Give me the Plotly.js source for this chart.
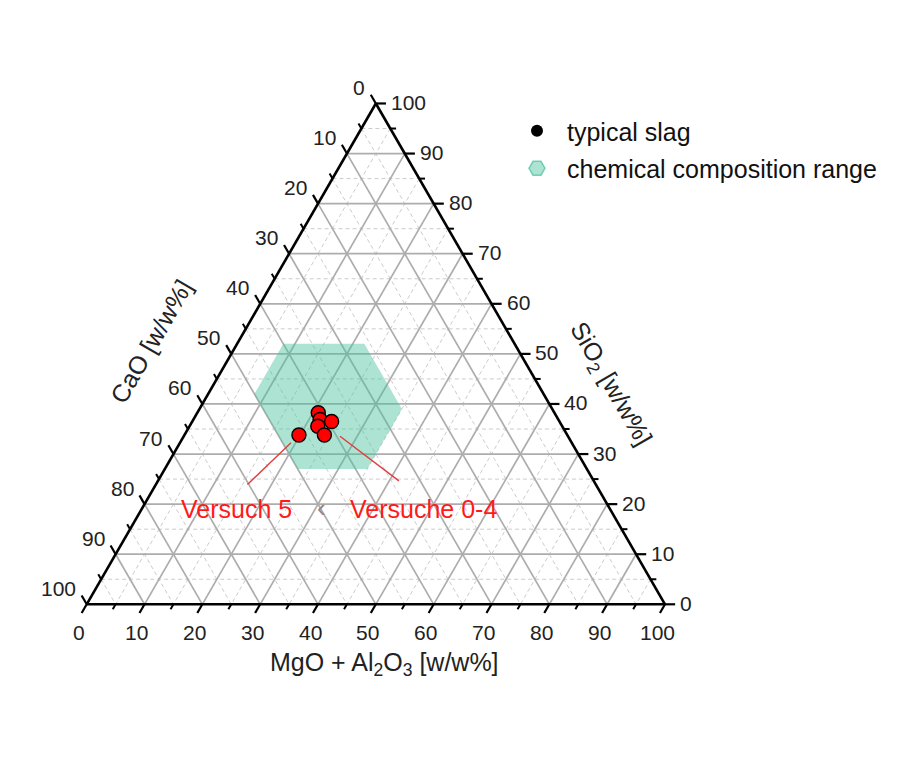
<!DOCTYPE html>
<html>
<head>
<meta charset="utf-8">
<script src="https://cdn.plot.ly/plotly-3.0.1.min.js"></script>
<style>
  html, body { margin: 0; padding: 0; background: #ffffff; }
  #chart { width: 906px; height: 769px; }
</style>
</head>
<body>
<div id="chart"></div>
<script>
// Slag compositions in w/w% (SiO2, CaO, MgO + Al2O3)
const trialsSiO2 = [38.2, 36.9, 35.6, 36.5, 33.8];   // Versuche 0-4
const trialsCaO  = [40.8, 41.2, 42.3, 39.4, 42.0];
const trialsMgO  = [20.9, 21.9, 22.2, 24.1, 24.2];

const trial5SiO2 = [33.8];                           // Versuch 5
const trial5CaO  = [46.4];
const trial5MgO  = [19.8];

// Chemical composition range of typical slag (hexagon corners)
const rangeSiO2 = [52, 52, 39, 27, 27, 42];
const rangeCaO  = [40, 26, 26, 38, 50, 50];
const rangeMgO  = [ 8, 22, 35, 35, 23,  8];

// Axis ticks
const majorTicks = [0, 10, 20, 30, 40, 50, 60, 70, 80, 90, 100];
const minorTicks = [5, 15, 25, 35, 45, 55, 65, 75, 85, 95];
const tickLabels = ['0', '10', '20', '30', '40', '50', '60', '70', '80', '90', '100'];

const FONT = 'Liberation Sans, Arial, Helvetica, sans-serif';
const H = Math.sqrt(3) / 2;

// Ternary (SiO2 top, CaO bottom-left, MgO+Al2O3 bottom-right) -> plane
function tx(si, ca, mg) { const s = si + ca + mg; return 100 * (mg + si / 2) / s; }
function ty(si, ca, mg) { const s = si + ca + mg; return 100 * si * H / s; }

function segs(list) {
  const x = [], y = [];
  list.forEach(([p, q]) => {
    x.push(tx(...p), tx(...q), null);
    y.push(ty(...p), ty(...q), null);
  });
  return { x, y };
}

// Grid lines for the three families of constant composition
function gridSegs(vals) {
  const out = [];
  vals.forEach(v => {
    if (v <= 0 || v >= 100) return;
    out.push([[v, 100 - v, 0], [v, 0, 100 - v]]);        // SiO2 = v
    out.push([[100 - v, v, 0], [0, v, 100 - v]]);        // CaO = v
    out.push([[100 - v, 0, v], [0, 100 - v, v]]);        // MgO+Al2O3 = v
  });
  return segs(out);
}

// Outward tick marks on the three edges
function tickSegs(vals, t) {
  const out = [];
  vals.forEach(v => {
    out.push([[100 - v, v, 0], [100 - v + t, v, -t]]);   // CaO on left edge
    out.push([[v, 0, 100 - v], [v, -t, 100 - v + t]]);   // SiO2 on right edge
    out.push([[0, 100 - v, v], [-t, 100 - v + t, v]]);   // MgO+Al2O3 on bottom edge
  });
  return segs(out);
}

const minorGrid = gridSegs(minorTicks);
const majorGrid = gridSegs(majorTicks);
const edges = segs([[[100, 0, 0], [0, 100, 0]], [[0, 100, 0], [0, 0, 100]], [[0, 0, 100], [100, 0, 0]]]);
const majorTickMarks = tickSegs(majorTicks, 1.75);
const minorTickMarks = tickSegs(minorTicks, 1.0);

const traces = [
  { type: 'scatter', mode: 'lines', x: minorGrid.x, y: minorGrid.y, hoverinfo: 'skip', showlegend: false,
    line: { color: '#cccccc', width: 1, dash: '4px,3px' } },
  { type: 'scatter', mode: 'lines', x: majorGrid.x, y: majorGrid.y, hoverinfo: 'skip', showlegend: false,
    line: { color: '#adadad', width: 1.7 } },
  { type: 'scatter', mode: 'lines', fill: 'toself', showlegend: false, hoverinfo: 'skip',
    x: rangeSiO2.map((s, i) => tx(s, rangeCaO[i], rangeMgO[i])),
    y: rangeSiO2.map((s, i) => ty(s, rangeCaO[i], rangeMgO[i])),
    fillcolor: 'rgba(70,192,155,0.45)', line: { width: 0, color: 'rgba(0,0,0,0)' } },
  { type: 'scatter', mode: 'lines', x: edges.x, y: edges.y, hoverinfo: 'skip', showlegend: false, cliponaxis: false,
    line: { color: '#000000', width: 2.6 } },
  { type: 'scatter', mode: 'lines', x: majorTickMarks.x, y: majorTickMarks.y, hoverinfo: 'skip', showlegend: false, cliponaxis: false,
    line: { color: '#000000', width: 2.2 } },
  { type: 'scatter', mode: 'lines', x: minorTickMarks.x, y: minorTickMarks.y, hoverinfo: 'skip', showlegend: false, cliponaxis: false,
    line: { color: '#000000', width: 2 } },
  { type: 'scatter', mode: 'markers', name: 'Versuch 5', showlegend: false,
    x: trial5SiO2.map((s, i) => tx(s, trial5CaO[i], trial5MgO[i])),
    y: trial5SiO2.map((s, i) => ty(s, trial5CaO[i], trial5MgO[i])),
    marker: { size: 14, color: '#ff0000', line: { color: '#000000', width: 1.4 } } },
  { type: 'scatter', mode: 'markers', name: 'Versuche 0-4', showlegend: false,
    x: trialsSiO2.map((s, i) => tx(s, trialsCaO[i], trialsMgO[i])),
    y: trialsSiO2.map((s, i) => ty(s, trialsCaO[i], trialsMgO[i])),
    marker: { size: 14, color: '#ff0000', line: { color: '#000000', width: 1.4 } } },
  // legend entries
  { type: 'scatter', mode: 'markers', name: 'typical slag', x: [null], y: [null], legendgroup: 'g1',
    marker: { size: 12, color: '#000000', symbol: 'circle' } },
  { type: 'scatter', mode: 'markers', name: 'chemical composition range', x: [null], y: [null], legendgroup: 'g2',
    marker: { size: 16, color: 'rgba(70,192,155,0.45)', symbol: 'hexagon2', line: { color: 'rgba(70,192,155,0.7)', width: 1.5 } } }
];

const annotations = [];
const base = { showarrow: false, font: { family: FONT, size: 21, color: '#222222' } };
majorTicks.forEach((v, i) => {
  // CaO labels, left edge
  annotations.push(Object.assign({}, base, { x: tx(100 - v, v, 0), y: ty(100 - v, v, 0), text: tickLabels[i],
    xanchor: 'right', yanchor: 'middle', xshift: -9, yshift: 16 }));
  // SiO2 labels, right edge
  annotations.push(Object.assign({}, base, { x: tx(v, 0, 100 - v), y: ty(v, 0, 100 - v), text: tickLabels[i],
    xanchor: 'left', yanchor: 'middle', xshift: 13, yshift: 1 }));
  // MgO + Al2O3 labels, bottom edge
  annotations.push(Object.assign({}, base, { x: tx(0, 100 - v, v), y: ty(0, 100 - v, v), text: tickLabels[i],
    xanchor: 'center', yanchor: 'top', xshift: -8, yshift: -15 }));
});

// Axis titles
const titleFont = { family: FONT, size: 25, color: '#222222' };
annotations.push({ x: tx(0, 50, 50), y: ty(0, 50, 50), text: 'MgO + Al<sub>2</sub>O<sub>3</sub> [w/w%]', showarrow: false,
  font: titleFont, xanchor: 'center', yanchor: 'middle', xshift: 9, yshift: -60 });
annotations.push({ x: tx(50, 50, 0), y: ty(50, 50, 0), text: 'CaO [w/w%]', showarrow: false, textangle: -60,
  font: titleFont, xanchor: 'center', yanchor: 'middle', xshift: -80, yshift: 13 });
annotations.push({ x: tx(50, 0, 50), y: ty(50, 0, 50), text: 'SiO<sub>2</sub> [w/w%]', showarrow: false, textangle: 60,
  font: titleFont, xanchor: 'center', yanchor: 'middle', xshift: 90, yshift: -31 });

// Leader lines and labels for the trials
const p5 = [tx(trial5SiO2[0], trial5CaO[0], trial5MgO[0]), ty(trial5SiO2[0], trial5CaO[0], trial5MgO[0])];
const mean = a => a.reduce((s, v) => s + v, 0) / a.length;
const pc = [tx(mean(trialsSiO2), mean(trialsCaO), mean(trialsMgO)), ty(mean(trialsSiO2), mean(trialsCaO), mean(trialsMgO))];
const red = '#ff1a1a';
annotations.push({ x: p5[0], y: p5[1], text: '', showarrow: true, arrowhead: 0, arrowwidth: 1.4, arrowcolor: '#e43c3c',
  ax: -53, ay: 51, standoff: 11 });
annotations.push({ x: pc[0], y: pc[1], text: '', showarrow: true, arrowhead: 0, arrowwidth: 1.4, arrowcolor: '#e43c3c',
  ax: 78, ay: 59, standoff: 22 });
annotations.push({ x: p5[0], y: p5[1], text: 'Versuch 5', showarrow: false, font: { family: FONT, size: 25, color: red },
  xanchor: 'center', yanchor: 'middle', xshift: -62, yshift: -74 });
annotations.push({ x: pc[0], y: pc[1], text: 'Versuche 0-4', showarrow: false, font: { family: FONT, size: 25, color: red },
  xanchor: 'center', yanchor: 'middle', xshift: 101, yshift: -86 });
annotations.push({ x: p5[0], y: p5[1], text: '‹', showarrow: false, font: { family: FONT, size: 26, color: '#8a8a8a' },
  xanchor: 'center', yanchor: 'middle', xshift: 23, yshift: -73 });

// Plane scale: 5.783 px per unit, bottom-left corner at (86.7, 604.3) px
const PX = 5.783;
const layout = {
  width: 906, height: 769,
  margin: { l: 0, r: 0, t: 0, b: 0 },
  paper_bgcolor: '#ffffff', plot_bgcolor: 'rgba(0,0,0,0)',
  xaxis: { range: [-86.7 / PX, (906 - 86.7) / PX], visible: false, fixedrange: true },
  yaxis: { range: [-(769 - 604.3) / PX, 604.3 / PX], visible: false, fixedrange: true },
  showlegend: true,
  legend: { x: 507 / 906, y: 1 - 108 / 769, xanchor: 'left', yanchor: 'top', itemwidth: 50,
    font: { family: FONT, size: 25, color: '#111111' }, bgcolor: 'rgba(0,0,0,0)', tracegroupgap: 2 },
  annotations: annotations,
  font: { family: FONT }
};

Plotly.newPlot('chart', traces, layout, { displayModeBar: false, staticPlot: true });
</script>
</body>
</html>
